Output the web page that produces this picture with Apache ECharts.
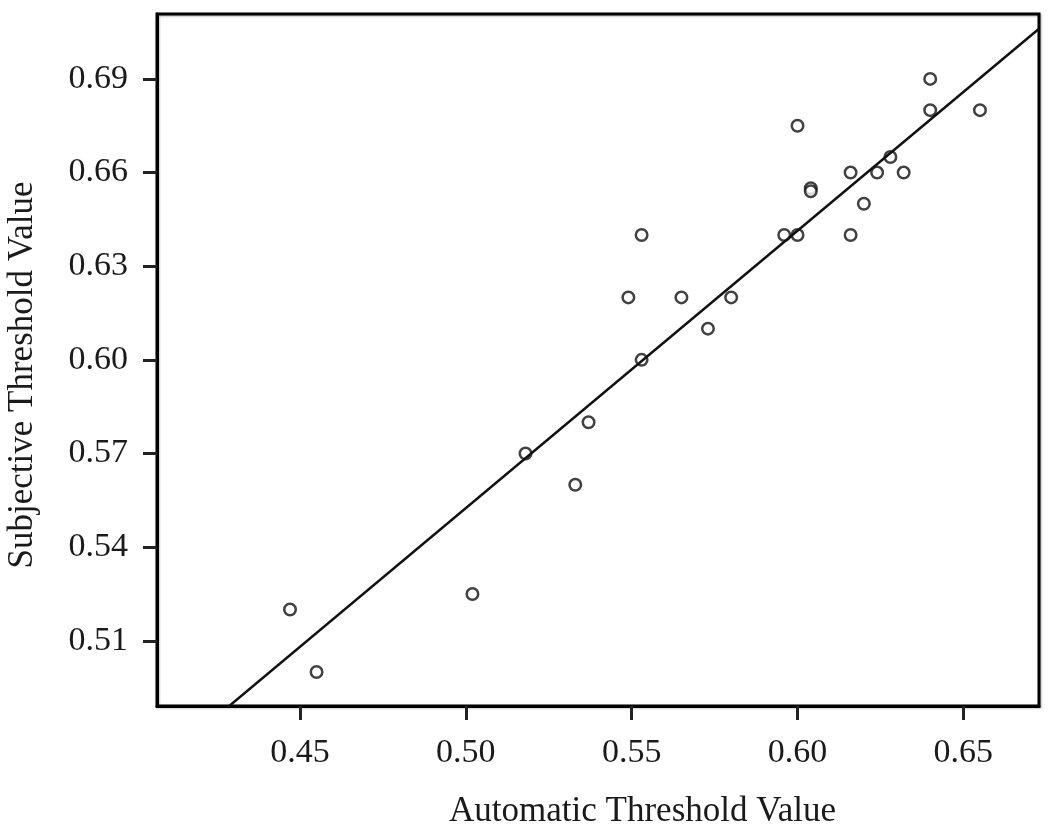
<!DOCTYPE html>
<html>
<head>
<meta charset="utf-8">
<script src="https://cdn.jsdelivr.net/npm/echarts@6/dist/echarts.min.js"></script>
<style>html,body{margin:0;padding:0;background:#fff}#c{width:1050px;height:833px}</style>
</head>
<body>
<div id="c"></div>
<script>
// Data
const automatic = [0.447,0.455,0.502,0.518,0.533,0.537,0.549,0.553,0.553,0.565,0.573,0.580,0.596,0.600,0.600,0.604,0.604,0.616,0.616,0.620,0.624,0.628,0.632,0.640,0.640,0.655];
const subjective = [0.520,0.500,0.525,0.570,0.560,0.580,0.620,0.640,0.600,0.620,0.610,0.620,0.640,0.640,0.675,0.655,0.654,0.660,0.640,0.650,0.660,0.665,0.660,0.690,0.680,0.680];
const xTicks = [0.45,0.50,0.55,0.60,0.65];
const yTicks = [0.51,0.54,0.57,0.60,0.63,0.66,0.69];
const fitSlope = 0.8888;
const fitIntercept = 0.1081;
const xRange = [0.4069, 0.6728];
const yRange = [0.4891, 0.7108];

const points = automatic.map((x,i)=>[x, subjective[i]]);
const fitLine = xRange.map(x=>[x, fitIntercept + fitSlope*x]);

const font = 'Liberation Serif';
const chart = echarts.init(document.getElementById('c'));
chart.setOption({
  animation:false,
  backgroundColor:'#fff',
  grid:{left:157,right:11,top:14,bottom:127,outerBoundsMode:'none',containLabel:false,
        show:true,borderColor:'#000',borderWidth:3,
        shadowColor:'rgba(0,0,0,0.3)',shadowBlur:2,shadowOffsetX:1,shadowOffsetY:1},
  xAxis:{
    type:'value',min:xRange[0],max:xRange[1],
    name:'Automatic Threshold Value',nameLocation:'middle',nameGap:88,
    nameTextStyle:{fontFamily:font,fontSize:35,color:'#1a1a1a',padding:[0,0,0,89]},
    axisLine:{show:true,lineStyle:{color:'#000',width:3}},
    axisTick:{show:true,length:14,lineStyle:{color:'#222',width:3},customValues:xTicks},
    axisLabel:{fontFamily:font,fontSize:34,color:'#1a1a1a',margin:30,customValues:xTicks,
      formatter:v=>v.toFixed(2)},
    splitLine:{show:false}
  },
  yAxis:{
    type:'value',min:yRange[0],max:yRange[1],
    name:'Subjective Threshold Value',nameLocation:'middle',nameGap:117,
    nameTextStyle:{fontFamily:font,fontSize:35,color:'#1a1a1a',padding:[0,30,0,0]},
    axisLine:{show:true,lineStyle:{color:'#000',width:3}},
    axisTick:{show:true,length:14,lineStyle:{color:'#222',width:3},customValues:yTicks},
    axisLabel:{fontFamily:font,fontSize:34,color:'#1a1a1a',margin:29,customValues:yTicks,
      formatter:v=>v.toFixed(2)},
    splitLine:{show:false}
  },
  series:[
    {type:'line',data:fitLine,symbol:'none',clip:true,silent:true,
     lineStyle:{color:'#111',width:2.5}},
    {type:'scatter',data:points,symbol:'circle',symbolSize:11.5,
     itemStyle:{color:'#fff',borderColor:'#111',borderWidth:2.5}}
  ]
});
</script>
</body>
</html>
